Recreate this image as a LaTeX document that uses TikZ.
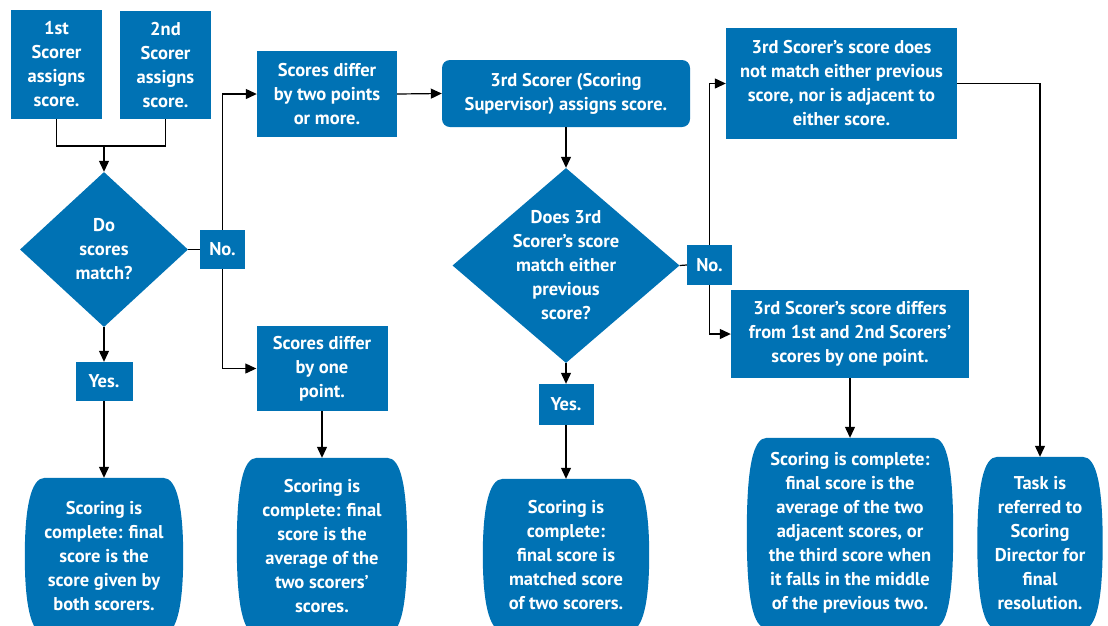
\documentclass[tikz,border=0pt]{standalone}
\usepackage{fontspec}
\newfontfamily\chartfont{PT Sans}
\usetikzlibrary{arrows.meta,shapes.geometric,calc,backgrounds}
\definecolor{scoreblue}{RGB}{0,114,180}

\begin{document}
\begin{tikzpicture}[
    x=1pt, y=-1pt,
    txt/.style={
        text=white,
        align=center,
        inner sep=0pt,
        font=\chartfont\bfseries\fontsize{18.5pt}{24pt}\selectfont
    },
    box/.style={txt, fill=scoreblue},
    choice/.style={box, diamond, inner sep=-35pt},
    dims/.style 2 args={minimum width=#1pt, minimum height=#2pt},
    line/.style={line width=1.2pt},
    arrow/.style={line, -{Triangle[length=11pt,width=10pt]}}
]
\useasboundingbox (0,0) rectangle (1108,625);

\node[box, dims={91}{109}] (first) at (56.5,64.5) {1st\\Scorer\\assigns\\score.};
\node[box, dims={91}{108}] (second) at (165.5,65) {2nd\\Scorer\\assigns\\score.};
\node[choice, dims={168}{155}] (match) at (104,249.5) {Do\\scores\\match?};
\node[box, dims={45}{39}] (no1) at (222.5,249.5) {No.};
\node[box, dims={57}{39}] (yes1) at (104,381.5) {Yes.};
\node[box, dims={140}{86}] (twopts) at (327,94) {Scores differ\\by two points\\or more.};
\node[box, dims={131}{85}] (onept) at (322,368.5) {Scores differ\\by one\\point.};

\node[box, rounded corners=8pt, dims={248}{67}] (third) at (566,93.5) {3rd Scorer (Scoring\\Supervisor) assigns score.};
\node[choice, dims={227}{195}] (agree) at (566,265.5) {Does 3rd\\Scorer’s score\\match either\\previous\\score?};
\node[box, dims={45}{40}] (no2) at (709.5,265) {No.};
\node[box, dims={55}{41}] (yes2) at (566,404.5) {Yes.};
\node[box, dims={231}{111}] (nomatch) at (841.5,83.5) {3rd Scorer’s score does\\not match either previous\\score, nor is adjacent to\\either score.};
\node[box, dims={238}{88}] (differs) at (850,334) {3rd Scorer’s score differs\\from 1st and 2nd Scorers’\\scores by one point.};

\node[txt, dims={158}{156}] (done1) at (104,556) {Scoring is\\complete: final\\score is the\\score given by\\both scorers.};
\node[txt, dims={170}{176}] (done2) at (322,546) {Scoring is\\complete: final\\score is the\\average of the\\two scorers’\\scores.};
\node[txt, dims={166}{152}] (done3) at (566,555) {Scoring is\\complete:\\final score is\\matched score\\of two scorers.};
\node[txt, dims={206}{190}] (done4) at (850,533) {Scoring is complete:\\final score is the\\average of the two\\adjacent scores, or\\the third score when\\it falls in the middle\\of the previous two.};
\node[txt, dims={125}{172}] (director) at (1040,543) {Task is\\referred to\\Scoring\\Director for\\final\\resolution.};

\begin{scope}[on background layer]
\foreach \n in {done1,done2,done3,done4,director}
    \fill[scoreblue] ($(\n.north west)+(20,0)$) -- ($(\n.north east)+(-20,0)$)
        .. controls ($(\n.north east)+(-6,0)$) and ($(\n.north east)+(0,30)$) .. (\n.east)
        .. controls ($(\n.south east)+(0,-30)$) and ($(\n.south east)+(-6,0)$) .. ($(\n.south east)+(-20,0)$)
        -- ($(\n.south west)+(20,0)$)
        .. controls ($(\n.south west)+(6,0)$) and ($(\n.south west)+(0,-30)$) .. (\n.west)
        .. controls ($(\n.north west)+(0,30)$) and ($(\n.north west)+(6,0)$) .. cycle;
\end{scope}

\coordinate (join) at (104,146);
\draw[line] (first.south) |- (join);
\draw[line] (second.south) |- (join);
\draw[arrow] (join) -- (match.north);
\draw[line] (match.east) -- (no1.west);
\draw[arrow] (no1.north) |- (twopts.west);
\draw[arrow] (no1.south) |- (onept.west);
\draw[arrow] (match.south) -- (yes1.north);
\draw[arrow] (yes1.south) -- (done1.north);
\draw[arrow] (onept.south) -- (done2.north);
\draw[arrow] (twopts.east) -- (third.west);
\draw[arrow] (third.south) -- (agree.north);
\draw[line] (agree.east) -- (no2.west);
\draw[arrow] (no2.north) |- (nomatch.west);
\draw[arrow] (no2.south) |- (differs.west);
\draw[arrow] (agree.south) -- (yes2.north);
\draw[arrow] (yes2.south) -- (done3.north);
\draw[arrow] (differs.south) -- (done4.north);
\draw[arrow] (nomatch.east) -| (director.north);

\end{tikzpicture}
\end{document}
